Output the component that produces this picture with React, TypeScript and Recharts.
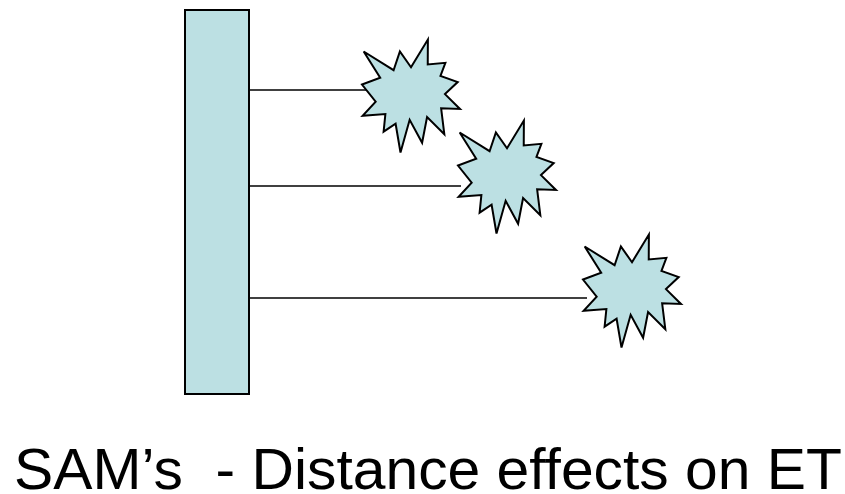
import React from "react";
import {
  ScatterChart,
  Scatter,
  XAxis,
  YAxis,
  ReferenceArea,
  ReferenceLine,
} from "recharts";

// units: 1 = 10px, x measured from the pole's right face, y from the pole's foot
const samNames = ["SAM 1", "SAM 2", "SAM 3"];
const tetherHeights = [30.4, 20.8, 9.6];
const tetherEnds = [11.9, 21.2, 33.8];
const samDistances = [16.2, 25.8, 38.3];
const samHeights = [29.8, 21.7, 10.3];
const pole = { x1: -6.4, x2: 0, y1: 0, y2: 38.4 };
const title = "SAM\u2019s  - Distance effects on ET";

const samData = samNames.map((name, i) => ({
  name,
  x: samDistances[i],
  y: samHeights[i],
}));

const FILL = "#BCE0E3";

// PowerPoint "explosion 1" outline, normalised to a 21600 box
const SEAL = [
  [10800, 5800], [14522, 0], [14155, 5325], [18380, 4457], [16702, 7315],
  [21097, 8137], [17607, 10475], [21600, 13290], [16837, 12942], [18145, 18095],
  [14020, 14457], [13247, 19737], [10532, 14935], [8485, 21600], [7715, 15627],
  [4762, 17617], [5667, 13937], [135, 14587], [3722, 11775], [0, 8615],
  [4627, 7617], [370, 2295], [7312, 6320], [8352, 2295],
];

function Burst(props: any) {
  const { cx, cy } = props;
  const w = 98;
  const h = 113;
  const pts = SEAL.map(([px, py], i) => {
    let nx = px / 21600 - 0.5;
    let ny = py / 21600 - 0.5;
    if (i % 2 === 0) {
      nx *= 1.1;
      ny *= 1.1;
    }
    return `${cx + nx * w},${cy + ny * h}`;
  }).join(" ");
  return (
    <polygon
      points={pts}
      fill={FILL}
      stroke="#000"
      strokeWidth={2}
      strokeLinejoin="miter"
    />
  );
}

export default function App() {
  return (
    <div style={{ position: "absolute", left: 0, top: 0, width: 845, height: 494, background: "#fff" }}>
      <ScatterChart
        width={845}
        height={494}
        margin={{ top: 0, right: 0, bottom: 0, left: 0 }}
      >
        <XAxis type="number" dataKey="x" domain={[-24.9, 59.6]} hide />
        <YAxis type="number" dataKey="y" domain={[-10, 39.4]} hide />
        <ReferenceArea
          x1={pole.x1}
          x2={pole.x2}
          y1={pole.y1}
          y2={pole.y2}
          fill={FILL}
          fillOpacity={1}
          stroke="#000"
          strokeWidth={2}
        />
        {tetherHeights.map((h, i) => (
          <ReferenceLine
            key={samNames[i]}
            segment={[
              { x: pole.x2, y: h },
              { x: tetherEnds[i], y: h },
            ]}
            stroke="#000"
            strokeWidth={1.7}
          />
        ))}
        <Scatter
          data={samData}
          shape={Burst}
          isAnimationActive={false}
        />
      </ScatterChart>
      <svg
        width={845}
        height={494}
        style={{ position: "absolute", left: 0, top: 0, pointerEvents: "none" }}
      >
        <text
          x={14}
          y={489}
          fontFamily="'Liberation Sans', Arial, sans-serif"
          fontSize={57}
          fill="#000"
          textLength={828}
          lengthAdjust="spacingAndGlyphs"
          style={{ whiteSpace: "pre" }}
        >
          {title}
        </text>
      </svg>
    </div>
  );
}
